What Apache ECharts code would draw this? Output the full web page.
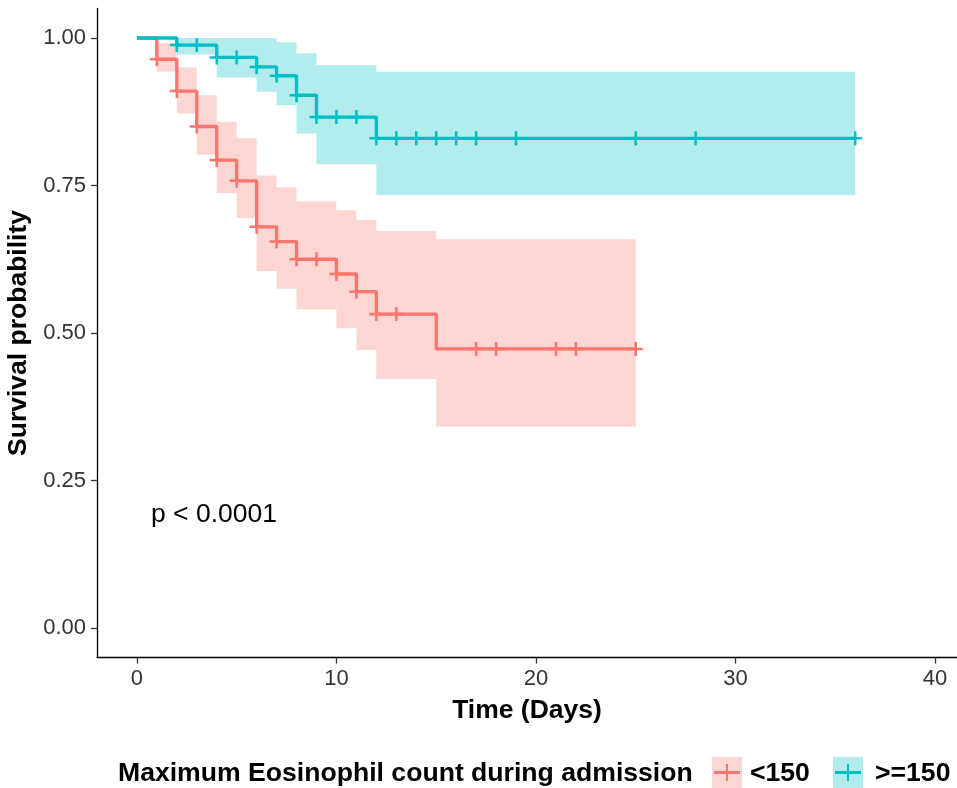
<!DOCTYPE html>
<html>
<head>
<meta charset="utf-8">
<script src="https://cdn.jsdelivr.net/npm/echarts@6/dist/echarts.min.js"></script>
<style>html,body{margin:0;padding:0;background:#fff}#c{width:957px;height:788px}</style>
</head>
<body>
<div id="c"></div>
<script>
// ---- data ----
const xTicks = [0, 10, 20, 30, 40];
const yTicks = [0, 0.25, 0.5, 0.75, 1.0];

// group "<150"
const redT   = [0, 1, 2, 3, 4, 5, 6, 7, 8, 10, 11, 12, 15];
const redEnd = 25;
const redS   = [1, 0.964, 0.910, 0.850, 0.793, 0.758, 0.680, 0.655, 0.625, 0.600, 0.570, 0.532, 0.473];
const redLo  = [1, 0.943, 0.872, 0.802, 0.737, 0.695, 0.605, 0.575, 0.540, 0.508, 0.471, 0.422, 0.341];
const redHi  = [1, 0.991, 0.950, 0.903, 0.858, 0.830, 0.767, 0.747, 0.723, 0.708, 0.692, 0.673, 0.659];
const redCensor = [1, 2, 3, 4, 5, 6, 7, 8, 9, 10, 11, 12, 13, 17, 18, 21, 22, 25];

// group ">=150"
const tealT   = [0, 2, 4, 6, 7, 8, 9, 12];
const tealEnd = 36;
const tealS   = [1, 0.988, 0.967, 0.951, 0.936, 0.903, 0.866, 0.830];
const tealLo  = [1, 0.972, 0.933, 0.909, 0.886, 0.838, 0.786, 0.734];
const tealHi  = [1, 1, 1, 1, 0.993, 0.974, 0.954, 0.943];
const tealCensor = [2, 3, 4, 5, 6, 7, 8, 9, 10, 11, 12, 13, 14, 15, 16, 17, 19, 25, 28, 36];

const groupNames = ['<150', '>=150'];
const legendTitle = 'Maximum Eosinophil count during admission';
const pText = 'p < 0.0001';

// ---- helpers (build library data from arrays) ----
const RED = '#F8766D', TEAL = '#00BFC4';
const RED_FILL = 'rgba(248,118,109,0.3)', TEAL_FILL = 'rgba(0,191,196,0.3)';
function stepLine(T, S, end) {
  const d = T.map((t, i) => [t, S[i]]);
  d.push([end, S[S.length - 1]]);
  return d;
}
function bands(T, Lo, Hi, end) {
  const d = [];
  for (let i = 0; i < T.length; i++) {
    const t1 = i + 1 < T.length ? T[i + 1] : end;
    if (Hi[i] - Lo[i] > 0) d.push([T[i], t1, Lo[i], Hi[i]]);
  }
  return d;
}
function censors(T, S, C) {
  return C.map(c => {
    let k = 0;
    for (let i = 0; i < T.length; i++) if (T[i] <= c) k = i;
    return [c, S[k]];
  });
}
function bandRender(params, api) {
  const p0 = api.coord([api.value(0), api.value(3)]);
  const p1 = api.coord([api.value(1), api.value(2)]);
  return {
    type: 'rect',
    shape: { x: p0[0], y: p0[1], width: p1[0] - p0[0], height: p1[1] - p0[1] },
    style: { fill: api.visual('color') }
  };
}
const crossPath = 'path://M0,41 H100 V59 H0 Z M41,0 H59 V100 H41 Z';
const FONT = 'Liberation Sans, Arial, Helvetica, sans-serif';

const chart = echarts.init(document.getElementById('c'), null, { renderer: 'canvas' });
chart.setOption({
  animation: false,
  backgroundColor: '#fff',
  grid: { left: 97, right: 0, top: 8.5, bottom: 130.5, containLabel: false, outerBoundsMode: 'none' },
  xAxis: {
    type: 'value', min: -2, max: 41.1,
    name: 'Time (Days)', nameLocation: 'middle', nameGap: 40,
    nameTextStyle: { fontFamily: FONT, fontWeight: 'bold', fontSize: 26.5, color: '#000' },
    axisLine: { onZero: false, lineStyle: { color: '#000', width: 1.3 } },
    axisTick: { show: true, length: 6, lineStyle: { color: '#333', width: 1.3 }, customValues: xTicks },
    axisLabel: { fontFamily: FONT, fontSize: 22, color: '#333', margin: 10, customValues: xTicks },
    splitLine: { show: false }
  },
  yAxis: {
    type: 'value', min: -0.05, max: 1.05,
    name: 'Survival probability', nameLocation: 'middle', nameGap: 57, nameRotate: 90,
    nameTextStyle: { fontFamily: FONT, fontWeight: 'bold', fontSize: 26.5, color: '#000' },
    axisLine: { show: true, onZero: false, lineStyle: { color: '#000', width: 1.3 } },
    axisTick: { show: true, length: 6, lineStyle: { color: '#333', width: 1.3 }, customValues: yTicks },
    axisLabel: { fontFamily: FONT, fontSize: 22, color: '#333', margin: 11,
      formatter: v => v.toFixed(2), customValues: yTicks },
    splitLine: { show: false }
  },
  series: [
    { name: groupNames[0] + ' CI', type: 'custom', renderItem: bandRender, data: bands(redT, redLo, redHi, redEnd),
      itemStyle: { color: RED_FILL }, encode: { x: [0, 1], y: [2, 3] }, z: 1, silent: true },
    { name: groupNames[1] + ' CI', type: 'custom', renderItem: bandRender, data: bands(tealT, tealLo, tealHi, tealEnd),
      itemStyle: { color: TEAL_FILL }, encode: { x: [0, 1], y: [2, 3] }, z: 1, silent: true },
    { name: groupNames[0], type: 'line', step: 'end', data: stepLine(redT, redS, redEnd), showSymbol: false,
      lineStyle: { color: RED, width: 3.3 }, itemStyle: { color: RED }, z: 3 },
    { name: groupNames[0] + ' censor', type: 'scatter', data: censors(redT, redS, redCensor),
      symbol: crossPath, symbolSize: 14, itemStyle: { color: RED, opacity: 1 }, z: 4 },
    { name: groupNames[1], type: 'line', step: 'end', data: stepLine(tealT, tealS, tealEnd), showSymbol: false,
      lineStyle: { color: TEAL, width: 3.3 }, itemStyle: { color: TEAL }, z: 5 },
    { name: groupNames[1] + ' censor', type: 'scatter', data: censors(tealT, tealS, tealCensor),
      symbol: crossPath, symbolSize: 14, itemStyle: { color: TEAL, opacity: 1 }, z: 6 }
  ],
  graphic: [
    { type: 'text', left: 151, top: 501, style: { text: pText, fontFamily: FONT, fontSize: 26.5, fill: '#000' } },
    { type: 'text', left: 118, top: 760, style: { text: legendTitle, fontFamily: FONT, fontWeight: 'bold', fontSize: 26.6, fill: '#000' } },
    { type: 'rect', shape: { x: 712, y: 757, width: 30, height: 31 }, style: { fill: RED_FILL } },
    { type: 'line', shape: { x1: 714, y1: 772.5, x2: 740, y2: 772.5 }, style: { stroke: RED, lineWidth: 3 } },
    { type: 'line', shape: { x1: 727, y1: 764, x2: 727, y2: 781 }, style: { stroke: RED, lineWidth: 2 } },
    { type: 'text', left: 750, top: 760, style: { text: groupNames[0], fontFamily: FONT, fontWeight: 'bold', fontSize: 26.6, fill: '#000' } },
    { type: 'rect', shape: { x: 833, y: 757, width: 30, height: 31 }, style: { fill: TEAL_FILL } },
    { type: 'line', shape: { x1: 835, y1: 772.5, x2: 861, y2: 772.5 }, style: { stroke: TEAL, lineWidth: 3 } },
    { type: 'line', shape: { x1: 848, y1: 764, x2: 848, y2: 781 }, style: { stroke: TEAL, lineWidth: 2 } },
    { type: 'text', left: 875, top: 760, style: { text: groupNames[1], fontFamily: FONT, fontWeight: 'bold', fontSize: 26.6, fill: '#000' } }
  ]
});
</script>
</body>
</html>
